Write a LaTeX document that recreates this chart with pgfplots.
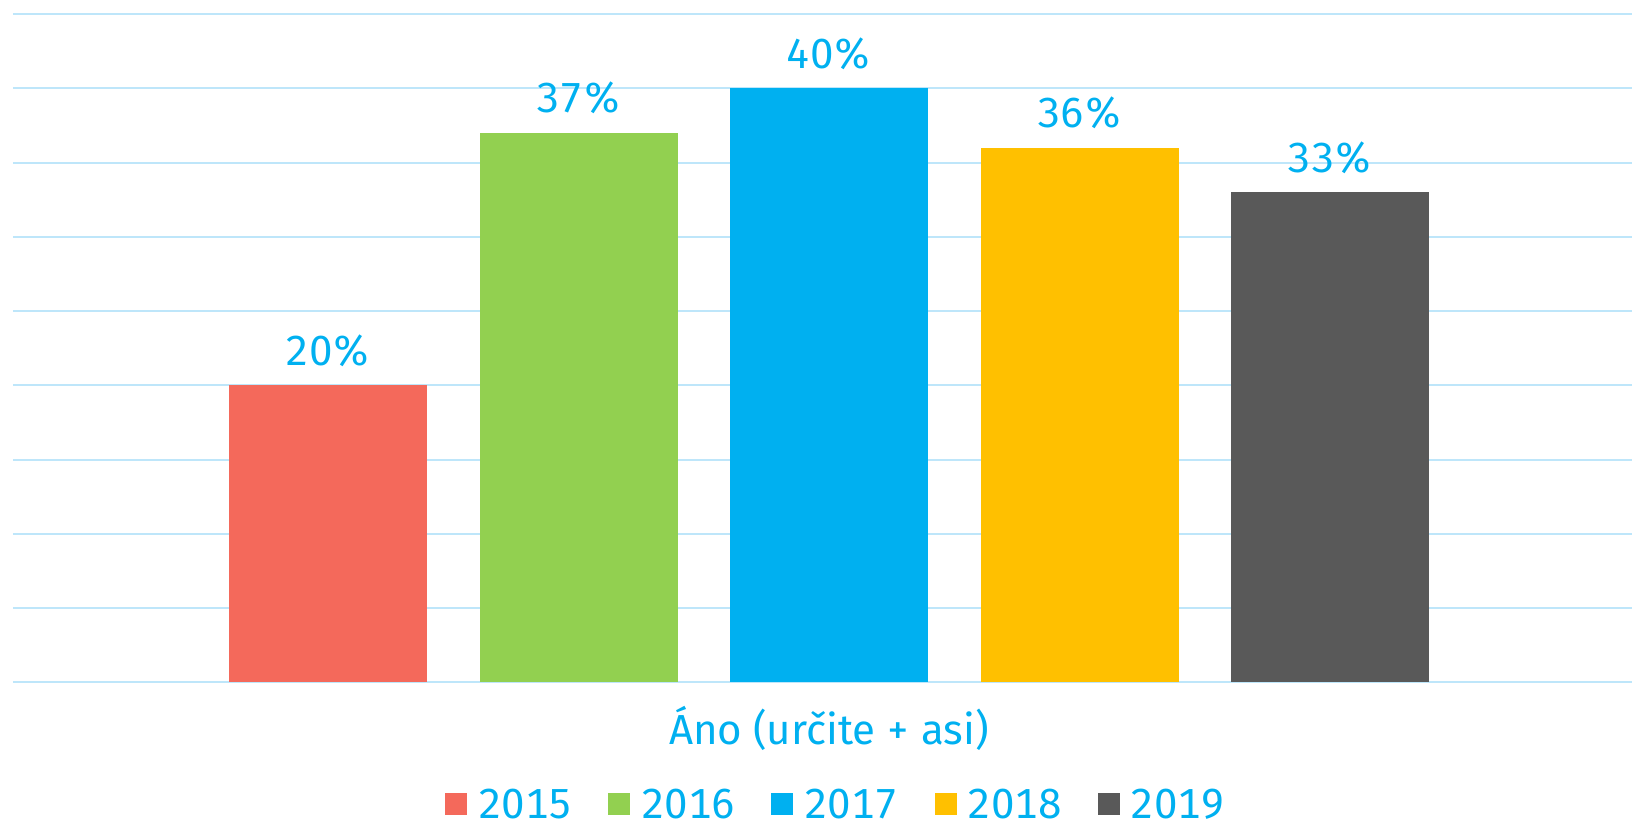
\documentclass[border=0pt]{standalone}
\usepackage{fontspec}
\setmainfont[Numbers=Monospaced]{Fira Sans}
\usepackage{pgfplots}
\pgfplotsset{compat=1.18}
\definecolor{gridblue}{RGB}{190,230,250}
\definecolor{txtblue}{RGB}{0,176,240}
\definecolor{cA}{RGB}{244,105,91}
\definecolor{cB}{RGB}{146,208,80}
\definecolor{cC}{RGB}{0,176,240}
\definecolor{cD}{RGB}{255,192,0}
\definecolor{cE}{RGB}{89,89,89}
\newcommand\lbl{\fontsize{21}{25}\selectfont}
\pgfplotsset{
  mybar/.style={ybar, bar width=99pt, bar shift=0pt, fill=#1, draw=none,
    nodes near coords={\pgfmathprintnumber{\pgfplotspointmeta}\%},
    every node near coord/.append style={anchor=base, yshift=10pt, inner sep=0pt, font=\lbl, text=txtblue},
    legend image code/.code={\fill[#1] (0pt,-5.5pt) rectangle (11pt,5.5pt);}},
}
\begin{document}
\begin{tikzpicture}
\useasboundingbox (0,0) rectangle (816pt,411.5pt);
\begin{axis}[
  at={(6.5pt,70.25pt)}, anchor=south west,
  scale only axis, width=809.5pt, height=334.25pt,
  /pgf/number format/assume math mode=true,
  xmin=-0.2575, xmax=6.2056, ymin=0, ymax=45,
  ytick={0,5,...,45}, yticklabels={},
  ymajorgrids, grid style={line width=1pt, draw=gridblue},
  axis line style={draw=none}, major tick length=0pt,
  xtick={3}, xticklabels={Áno (určite + asi)},
  xticklabel style={anchor=base, yshift=-31.25pt, font=\lbl, text=txtblue},
  clip=false,
  legend columns=-1,
  legend style={draw=none, fill=none, at={(0.5077,-0.1817)}, anchor=center,
    font=\lbl, text=txtblue, inner sep=0pt,
    nodes={inner sep=0pt, text depth=0pt},
    /tikz/every odd column/.append style={column sep=5.5pt},
    /tikz/every even column/.append style={column sep=18pt}},
]
\addplot[mybar=cA] coordinates {(1,20)};
\addlegendentry{2015}
\addplot[mybar=cB] coordinates {(2,37)};
\addlegendentry{2016}
\addplot[mybar=cC] coordinates {(3,40)};
\addlegendentry{2017}
\addplot[mybar=cD] coordinates {(4,36)};
\addlegendentry{2018}
\addplot[mybar=cE] coordinates {(5,33)};
\addlegendentry{2019}
\end{axis}
\end{tikzpicture}
\end{document}
